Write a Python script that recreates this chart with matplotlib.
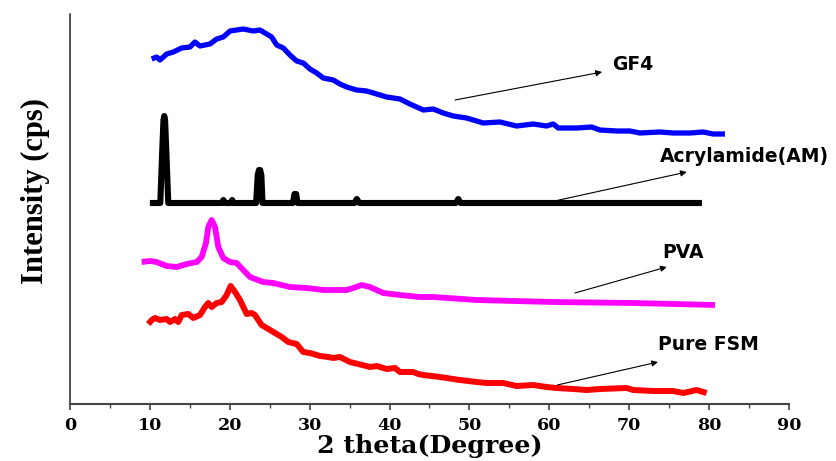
import matplotlib
matplotlib.use("Agg")
import matplotlib.pyplot as plt
from matplotlib.ticker import MultipleLocator

# ---------------- data (2 theta in degrees, intensity in arbitrary stacked units) ----------------
gf4_x = [10.22, 10.85, 11.26, 12.10, 12.93, 13.98, 15.02, 15.64, 16.27, 17.52, 18.36, 19.19,
         20.03, 20.86, 21.69, 22.94, 23.78, 24.62, 25.24, 25.87, 26.70, 27.53, 28.37, 29.20,
         30.04, 30.88, 31.70, 32.95, 33.79, 34.63, 35.88, 37.13, 38.39, 39.64, 41.30, 42.55,
         43.39, 44.22, 45.47, 46.72, 47.97, 49.64, 51.73, 53.82, 55.91, 57.98, 59.66, 60.49,
         61.11, 63.42, 65.29, 66.33, 68.42, 70.09, 71.34, 73.84, 75.51, 77.60, 79.26, 80.51, 81.98]
gf4_y = [345, 347, 344, 350, 352, 356, 357, 362, 358, 360, 365, 367,
         373, 374, 375, 373, 374, 370, 367, 359, 356, 349, 343, 341,
         335, 331, 326, 324, 320, 317, 314, 313, 310, 307, 305, 300,
         297, 294, 295, 291, 288, 286, 281, 282, 278, 280, 278, 280,
         276, 276, 277, 274, 273, 273, 271, 272, 271, 271, 272, 270, 270]

am_x = [10.0, 11.3, 11.55, 11.7, 11.8, 11.9, 12.05, 12.3, 19.0, 19.2, 19.4, 20.1, 20.3, 20.5,
        23.3, 23.5, 23.65, 23.8, 23.95, 24.1, 27.9, 28.1, 28.3, 28.5, 35.6, 35.9, 36.2,
        48.3, 48.6, 48.9, 79.1]
am_y = [201, 201, 254, 284, 288, 284, 254, 201, 201, 204, 201, 201, 204, 201,
        201, 229, 234, 234, 229, 201, 201, 210, 210, 201, 201, 205, 201,
        201, 205, 201, 201]

pva_x = [8.97, 10.01, 10.85, 12.10, 13.35, 14.61, 15.86, 16.48, 17.02, 17.31, 17.73, 18.15,
         18.56, 19.19, 20.03, 20.86, 21.69, 22.53, 24.19, 25.44, 27.53, 29.62, 31.70, 34.63,
         35.46, 36.51, 37.55, 39.21, 41.30, 43.80, 45.47, 50.90, 60.49, 70.50, 80.73]
pva_y = [142, 143, 142, 138, 137, 140, 142, 147, 161, 177, 184, 177,
         157, 146, 142, 141, 134, 127, 122, 121, 117, 116, 114, 114,
         116, 119, 117, 111, 109, 107, 107, 104, 102, 101, 99]

fsm_x = [9.80, 10.23, 10.64, 11.26, 12.10, 12.52, 13.14, 13.55, 13.98, 14.81, 15.43, 16.27,
         16.90, 17.31, 17.73, 18.36, 18.99, 19.61, 20.11, 20.65, 21.28, 22.12, 22.74, 23.15,
         23.99, 24.62, 25.24, 25.66, 26.50, 27.32, 28.37, 29.20, 30.04, 31.29, 32.33, 32.95,
         33.79, 35.04, 36.08, 37.55, 38.39, 39.64, 40.68, 41.30, 42.97, 43.59, 44.22, 46.31,
         48.81, 50.90, 52.15, 54.23, 55.91, 57.98, 59.66, 60.91, 62.99, 64.67, 66.33, 69.67,
         70.50, 73.00, 75.51, 76.76, 78.44, 79.69]
fsm_y = [80, 84, 86, 84, 85, 82, 85, 82, 89, 90, 86, 89,
         97, 101, 97, 101, 102, 109, 118, 112, 104, 90, 91, 89,
         79, 76, 73, 71, 67, 62, 60, 52, 51, 48, 47, 46,
         47, 42, 40, 37, 38, 35, 36, 32, 32, 30, 29, 27,
         24, 22, 21, 21, 18, 19, 17, 16, 15, 14, 15, 16,
         14, 13, 13, 11, 14, 11]

labels = ["GF4", "Acrylamide(AM)", "PVA", "Pure FSM"]
label_xy = [(67.8, 339), (73.8, 247), (74.1, 151), (73.6, 59)]
arrow_tail = [(48.2, 304), (60.1, 202), (63.2, 111), (61.0, 19)]
arrow_head = [(66.6, 332), (77.2, 232), (74.7, 137), (73.6, 42)]

xticks = [0, 10, 20, 30, 40, 50, 60, 70, 80, 90]

# ---------------- figure ----------------
fig = plt.figure(figsize=(8.37, 4.61), dpi=100)
ax = fig.add_axes([70 / 837, 57 / 461, 719 / 837, 390 / 461])

ax.plot(gf4_x, gf4_y, color="#0000FF", lw=3.8, solid_joinstyle="round", solid_capstyle="butt")
ax.plot(am_x, am_y, color="black", lw=4.4, solid_joinstyle="round", solid_capstyle="butt")
ax.plot(pva_x, pva_y, color="#FF00FF", lw=4.2, solid_joinstyle="round", solid_capstyle="butt")
ax.plot(fsm_x, fsm_y, color="#FF0000", lw=4.3, solid_joinstyle="round", solid_capstyle="butt")

for lab, (tx, ty), tail, head in zip(labels, label_xy, arrow_tail, arrow_head):
    ax.annotate("", xy=head, xytext=tail,
                arrowprops=dict(arrowstyle="-|>", color="black", lw=0.8,
                                mutation_scale=9, shrinkA=0, shrinkB=0))
    ax.text(tx, ty, lab, fontsize=13.5, fontweight="bold", family="DejaVu Sans",
            ha="left", va="center", color="black")

ax.set_xlim(0, 90)
ax.set_ylim(0, 390)
ax.set_xticks(xticks)
ax.xaxis.set_minor_locator(MultipleLocator(5))
ax.set_yticks([])

for s in ["top", "right"]:
    ax.spines[s].set_visible(False)
ax.spines["left"].set_color("#222222")
ax.spines["left"].set_linewidth(1.1)
ax.spines["bottom"].set_color("#444444")
ax.spines["bottom"].set_linewidth(1.5)

ax.tick_params(axis="x", which="major", direction="out", length=4, width=1.2,
               color="#444444", pad=5)
ax.tick_params(axis="x", which="minor", direction="out", length=3, width=1.0,
               color="#444444")
for t in ax.get_xticklabels():
    t.set_family("DejaVu Serif")
    t.set_fontweight("bold")
    t.set_fontsize(12.6)

ax.set_xlabel("2 theta(Degree)", family="DejaVu Serif", fontweight="bold",
              fontsize=18.2, labelpad=0)
ax.set_ylabel("Intensity (cps)", family="Liberation Serif", fontweight="bold", fontsize=22)
ax.yaxis.set_label_coords(-0.028, 0.545)

fig.savefig("out.png", dpi=100)
